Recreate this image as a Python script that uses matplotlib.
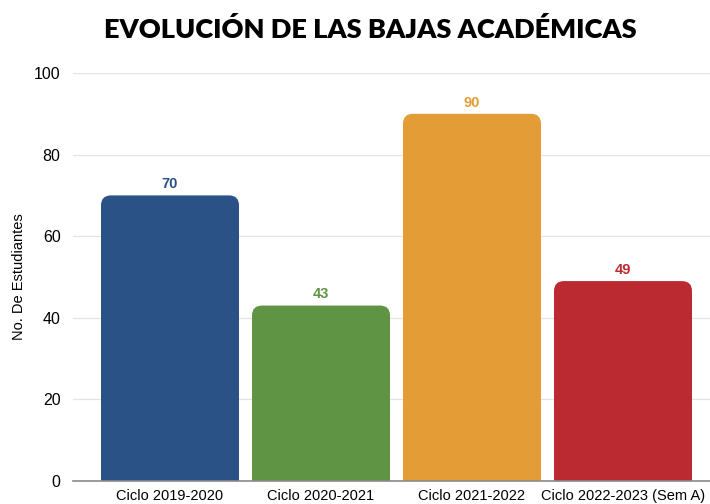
import matplotlib
matplotlib.use("Agg")
import matplotlib.pyplot as plt
from matplotlib.patches import FancyBboxPatch

categories = ["Ciclo 2019-2020", "Ciclo 2020-2021", "Ciclo 2021-2022", "Ciclo 2022-2023 (Sem A)"]
values = [70, 43, 90, 49]
colors = ["#2A5286", "#5E9443", "#E49D36", "#BC2A31"]
yticks = [0, 20, 40, 60, 80, 100]

W, H = 710, 504
fig = plt.figure(figsize=(W/100, H/100), dpi=100)
left, right, bottom, top = 73, 710, 481, 73
ax = fig.add_axes([left/W, 1-bottom/H, (right-left)/W, (bottom-top)/H])

x = list(range(len(categories)))
bw = 138/151
xmin, xmax = (73-170)/151, (710-170)/151
ax.set_xlim(xmin, xmax)
ax.set_ylim(0, 100)

bars = ax.bar(x, values, width=bw, color=colors)
# rounded tops
px_x = (xmax - xmin) / (right - left)
px_y = 100 / (bottom - top)
r_px = 10
for b, c in zip(bars, colors):
    b.set_visible(False)
    x0, w, h = b.get_x(), b.get_width(), b.get_height()
    p = FancyBboxPatch((x0, -r_px*px_y*2), w, h + r_px*px_y*2,
                       boxstyle=f"round,pad=0,rounding_size={r_px*px_x}",
                       mutation_aspect=px_y/px_x, fc=c, ec="none", zorder=2)
    ax.add_patch(p)
    ax.text(b.get_x()+w/2, h + 1.0, str(int(h)), ha="center", va="bottom",
            color=c, fontsize=10.5, fontweight="bold", family="Liberation Sans")

ax.set_yticks(yticks)
ax.set_yticklabels([str(t) for t in yticks], family="Liberation Sans", fontsize=11.5)
ax.set_xticks(x)
ax.set_xticklabels(categories, family="Liberation Sans", fontsize=10.5)
ax.tick_params(axis="y", length=0, pad=9)
ax.tick_params(axis="x", length=0, pad=6)
ax.grid(axis="y", color="#E3E3E3", linewidth=0.9, zorder=0)
ax.set_axisbelow(True)
for s in ["top", "right", "left"]:
    ax.spines[s].set_visible(False)
ax.spines["bottom"].set_color("#8A8A8A")
ax.spines["bottom"].set_linewidth(1.2)
ax.spines["bottom"].set_zorder(3)

fig.text(19/W, 1-(277)/H, "No. De Estudiantes", rotation=90, ha="center", va="center",
         family="Liberation Sans", fontsize=10.5)
fig.text(370/W, 1-29/H, "EVOLUCIÓN DE LAS BAJAS ACADÉMICAS", ha="center", va="center",
         family="Lato", fontweight="heavy", fontsize=19.5)

fig.savefig("out.png", dpi=100)
